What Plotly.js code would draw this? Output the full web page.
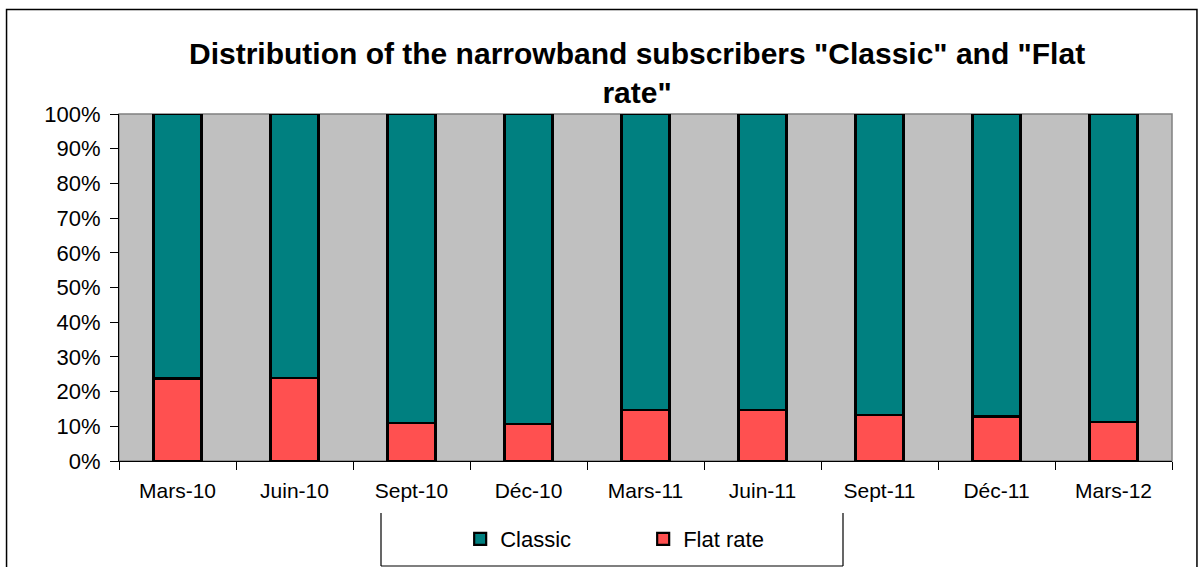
<!DOCTYPE html>
<html>
<head>
<meta charset="utf-8">
<script src="https://cdn.plot.ly/plotly-3.0.1.min.js"></script>
<style>html,body{margin:0;padding:0;background:#fff;} #chart{width:1203px;height:567px;}</style>
</head>
<body>
<div id="chart"></div>
<script>
const categories = ["Mars-10", "Juin-10", "Sept-10", "Déc-10", "Mars-11", "Juin-11", "Sept-11", "Déc-11", "Mars-12"];
const flatRate = [23.8, 24.0, 10.9, 10.6, 14.8, 14.6, 13.3, 12.8, 11.2];
const classic = [76.2, 76.0, 89.1, 89.4, 85.2, 85.4, 86.7, 87.2, 88.8];
const yTickVals = [0, 10, 20, 30, 40, 50, 60, 70, 80, 90, 100];
const yTickText = ["0%", "10%", "20%", "30%", "40%", "50%", "60%", "70%", "80%", "90%", "100%"];

const FONT = "Liberation Sans, Arial, sans-serif";

const traces = [
  {
    type: "bar", name: "Flat rate", x: categories, y: flatRate,
    marker: {color: "#FF5050", line: {color: "#000000", width: 2.2}},
    legendrank: 2, hoverinfo: "x+y+name"
  },
  {
    type: "bar", name: "Classic", x: categories, y: classic,
    marker: {color: "#008080", line: {color: "#000000", width: 2.2}},
    legendrank: 1, hoverinfo: "x+y+name"
  }
];

const layout = {
  width: 1203, height: 567,
  margin: {l: 119, r: 31, t: 114, b: 106},
  paper_bgcolor: "#ffffff",
  plot_bgcolor: "#C0C0C0",
  barmode: "stack",
  bargap: 0.59,
  font: {family: FONT, color: "#000000", size: 22},
  title: {
    text: "Distribution of the narrowband subscribers \"Classic\" and \"Flat<br>rate\"",
    font: {family: FONT, size: 30, color: "#000000", weight: "bold"},
    x: 0.492, xref: "paper", xanchor: "center",
    y: 1 - 64/567, yref: "container", yanchor: "top"
  },
  xaxis: {
    type: "category",
    showgrid: false, zeroline: false,
    showline: true, linecolor: "#000000", linewidth: 1,
    ticks: "outside", tickson: "boundaries", ticklen: 8, tickcolor: "#000000", tickwidth: 1,
    tickfont: {family: FONT, size: 21, color: "#000000"},
    ticklabelstandoff: 11,
    fixedrange: true
  },
  yaxis: {
    range: [0, 100],
    tickvals: yTickVals, ticktext: yTickText,
    showgrid: false, zeroline: false,
    showline: true, linecolor: "#000000", linewidth: 1,
    ticks: "outside", ticklen: 8, tickcolor: "#000000", tickwidth: 1,
    tickfont: {family: FONT, size: 22, color: "#000000"},
    ticklabelstandoff: 5,
    fixedrange: true
  },
  showlegend: true,
  legend: {
    orientation: "h",
    x: 0.324, xanchor: "left", xref: "paper",
    y: 1 - 539/567, yanchor: "middle", yref: "container",
    font: {family: FONT, size: 22, color: "#000000"},
    bgcolor: "rgba(0,0,0,0)",
    borderwidth: 0,
    entrywidth: 138,
    traceorder: "normal"
  },
  shapes: [
    {type: "rect", xref: "paper", yref: "paper", x0: -0.1068, x1: 1.0237, y0: -0.36, y1: 1.3012,
     line: {color: "#000000", width: 1.5}, fillcolor: "rgba(0,0,0,0)", layer: "below"},
    {type: "rect", xref: "paper", yref: "paper", x0: 0, x1: 1, y0: 0, y1: 1,
     line: {color: "#808080", width: 1.5}, fillcolor: "rgba(0,0,0,0)", layer: "below"},
    {type: "line", xref: "paper", yref: "paper", x0: (381-119)/1053, x1: (381-119)/1053, y0: (461-513)/347, y1: (461-566)/347,
     line: {color: "#000000", width: 1.2}},
    {type: "line", xref: "paper", yref: "paper", x0: (843-119)/1053, x1: (843-119)/1053, y0: (461-513)/347, y1: (461-566)/347,
     line: {color: "#000000", width: 1.2}},
    {type: "line", xref: "paper", yref: "paper", x0: (381-119)/1053, x1: (843-119)/1053, y0: (461-566)/347, y1: (461-566)/347,
     line: {color: "#000000", width: 1.2}}
  ]
};

Plotly.newPlot("chart", traces, layout, {displayModeBar: false, staticPlot: true});
</script>
</body>
</html>
